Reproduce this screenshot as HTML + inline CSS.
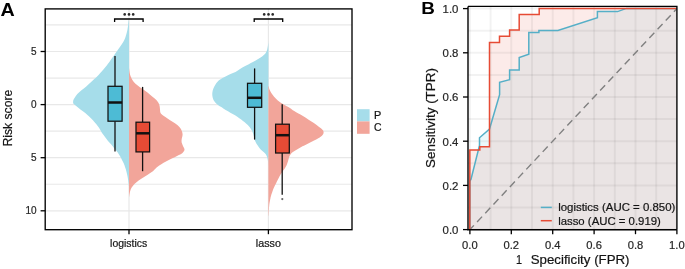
<!DOCTYPE html>
<html><head><meta charset="utf-8"><style>
html,body{margin:0;padding:0;background:#fff;}
svg{display:block;will-change:transform;}
text{font-family:"Liberation Sans",sans-serif;}
</style></head><body>
<svg width="685" height="269" viewBox="0 0 685 269">
<rect width="685" height="269" fill="#fff"/>
<line x1="45.20" x2="352.00" y1="24.95" y2="24.95" stroke="#E8E8E8" stroke-width="1.2"/><line x1="45.20" x2="352.00" y1="51.50" y2="51.50" stroke="#E8E8E8" stroke-width="1.2"/><line x1="45.20" x2="352.00" y1="78.05" y2="78.05" stroke="#E8E8E8" stroke-width="1.2"/><line x1="45.20" x2="352.00" y1="104.60" y2="104.60" stroke="#E8E8E8" stroke-width="1.2"/><line x1="45.20" x2="352.00" y1="131.15" y2="131.15" stroke="#E8E8E8" stroke-width="1.2"/><line x1="45.20" x2="352.00" y1="157.70" y2="157.70" stroke="#E8E8E8" stroke-width="1.2"/><line x1="45.20" x2="352.00" y1="184.25" y2="184.25" stroke="#E8E8E8" stroke-width="1.2"/><line x1="45.20" x2="352.00" y1="210.80" y2="210.80" stroke="#E8E8E8" stroke-width="1.2"/><line x1="129.00" x2="129.00" y1="8.90" y2="229.70" stroke="#E8E8E8" stroke-width="1.2"/><line x1="268.40" x2="268.40" y1="8.90" y2="229.70" stroke="#E8E8E8" stroke-width="1.2"/><path d="M128.90,19.50 C128.83,19.92 128.65,20.90 128.50,22.00 C128.35,23.10 128.18,24.75 128.00,26.10 C127.82,27.45 127.67,28.77 127.40,30.10 C127.13,31.43 126.78,32.75 126.40,34.10 C126.02,35.45 125.65,36.85 125.10,38.20 C124.55,39.55 123.88,40.87 123.10,42.20 C122.32,43.53 121.32,44.85 120.40,46.20 C119.48,47.55 118.53,48.97 117.60,50.30 C116.67,51.63 115.65,53.00 114.80,54.20 C113.95,55.40 113.35,56.30 112.50,57.50 C111.65,58.70 110.83,59.85 109.70,61.40 C108.57,62.95 107.12,65.02 105.70,66.80 C104.28,68.58 102.55,70.57 101.20,72.10 C99.85,73.63 99.10,74.52 97.60,76.00 C96.10,77.48 93.78,79.55 92.20,81.00 C90.62,82.45 89.50,83.45 88.10,84.70 C86.70,85.95 85.28,87.25 83.80,88.50 C82.32,89.75 80.53,90.97 79.20,92.20 C77.87,93.43 76.73,94.67 75.80,95.90 C74.87,97.13 74.05,98.58 73.60,99.60 C73.15,100.62 73.07,101.27 73.10,102.00 C73.13,102.73 72.98,103.10 73.80,104.00 C74.62,104.90 76.48,106.20 78.00,107.40 C79.52,108.60 81.32,109.95 82.90,111.20 C84.48,112.45 86.12,113.67 87.50,114.90 C88.88,116.13 90.02,117.37 91.20,118.60 C92.38,119.83 93.52,121.07 94.60,122.30 C95.68,123.53 96.77,124.77 97.70,126.00 C98.63,127.23 99.42,128.45 100.20,129.70 C100.98,130.95 101.57,132.25 102.40,133.50 C103.23,134.75 104.27,135.97 105.20,137.20 C106.13,138.43 106.98,139.67 108.00,140.90 C109.02,142.13 110.22,143.30 111.30,144.60 C112.38,145.90 113.43,147.40 114.50,148.70 C115.57,150.00 116.77,151.15 117.70,152.40 C118.63,153.65 119.38,154.95 120.10,156.20 C120.82,157.45 121.38,158.67 122.00,159.90 C122.62,161.13 123.28,162.37 123.80,163.60 C124.32,164.83 124.68,166.07 125.10,167.30 C125.52,168.53 125.95,169.75 126.30,171.00 C126.65,172.25 126.93,173.55 127.20,174.80 C127.47,176.05 127.68,177.27 127.90,178.50 C128.12,179.73 128.33,180.95 128.50,182.20 C128.67,183.45 128.83,185.37 128.90,186.00 L129.00,186.00 L129.00,19.50 Z" fill="#A6DDEA"/><path d="M129.10,68.50 C129.18,69.15 129.35,71.12 129.60,72.40 C129.85,73.68 130.13,74.95 130.60,76.20 C131.07,77.45 131.63,78.67 132.40,79.90 C133.17,81.13 133.95,82.37 135.20,83.60 C136.45,84.83 138.20,86.07 139.90,87.30 C141.60,88.53 143.70,89.77 145.40,91.00 C147.10,92.23 148.55,93.45 150.10,94.70 C151.65,95.95 153.37,97.25 154.70,98.50 C156.03,99.75 157.28,100.97 158.10,102.20 C158.92,103.43 159.28,104.67 159.60,105.90 C159.92,107.13 159.82,108.37 160.00,109.60 C160.18,110.83 160.00,112.20 160.70,113.30 C161.40,114.40 162.70,115.10 164.20,116.20 C165.70,117.30 167.85,118.67 169.70,119.90 C171.55,121.13 173.65,122.37 175.30,123.60 C176.95,124.83 178.52,126.07 179.60,127.30 C180.68,128.53 181.30,129.77 181.80,131.00 C182.30,132.23 182.60,133.45 182.60,134.70 C182.60,135.95 181.97,137.25 181.80,138.50 C181.63,139.75 181.40,140.97 181.60,142.20 C181.80,143.43 182.52,144.67 183.00,145.90 C183.48,147.13 184.58,148.42 184.50,149.60 C184.42,150.78 183.67,151.97 182.50,153.00 C181.33,154.03 179.28,154.87 177.50,155.80 C175.72,156.73 173.72,157.67 171.80,158.60 C169.88,159.53 167.75,160.47 166.00,161.40 C164.25,162.33 162.87,163.20 161.30,164.20 C159.73,165.20 158.00,166.23 156.60,167.40 C155.20,168.57 154.45,169.95 152.90,171.20 C151.35,172.45 149.17,173.67 147.30,174.90 C145.43,176.13 143.50,177.37 141.70,178.60 C139.90,179.83 137.98,181.07 136.50,182.30 C135.02,183.53 133.78,184.77 132.80,186.00 C131.82,187.23 131.13,188.45 130.60,189.70 C130.07,190.95 129.85,192.25 129.60,193.50 C129.35,194.75 129.18,196.58 129.10,197.20 L129.00,197.20 L129.00,68.50 Z" fill="#F2A59A"/><path d="M268.50,41.00 C268.40,41.78 268.10,44.37 267.90,45.70 C267.70,47.03 267.50,48.10 267.30,49.00 C267.10,49.90 267.05,50.32 266.70,51.10 C266.35,51.88 265.97,52.82 265.20,53.70 C264.43,54.58 263.28,55.50 262.10,56.40 C260.92,57.30 259.55,58.20 258.10,59.10 C256.65,60.00 255.03,60.90 253.40,61.80 C251.77,62.70 249.98,63.62 248.30,64.50 C246.62,65.38 244.68,66.33 243.30,67.10 C241.92,67.87 241.30,68.28 240.00,69.10 C238.70,69.92 237.08,71.18 235.50,72.00 C233.92,72.82 232.00,73.33 230.50,74.00 C229.00,74.67 227.83,75.33 226.50,76.00 C225.17,76.67 223.92,77.13 222.50,78.00 C221.08,78.87 219.22,80.05 218.00,81.20 C216.78,82.35 215.97,83.67 215.20,84.90 C214.43,86.13 213.87,87.37 213.40,88.60 C212.93,89.83 212.57,91.07 212.40,92.30 C212.23,93.53 212.23,94.77 212.40,96.00 C212.57,97.23 212.77,98.45 213.40,99.70 C214.03,100.95 215.32,102.52 216.20,103.50 C217.08,104.48 217.52,104.78 218.70,105.60 C219.88,106.42 221.75,107.47 223.30,108.40 C224.85,109.33 226.43,110.27 228.00,111.20 C229.57,112.13 231.15,113.08 232.70,114.00 C234.25,114.92 235.88,115.78 237.30,116.70 C238.72,117.62 239.97,118.57 241.20,119.50 C242.43,120.43 243.60,121.37 244.70,122.30 C245.80,123.23 246.87,124.17 247.80,125.10 C248.73,126.03 249.60,126.97 250.30,127.90 C251.00,128.83 251.53,129.77 252.00,130.70 C252.47,131.63 252.80,132.57 253.10,133.50 C253.40,134.43 253.57,135.38 253.80,136.30 C254.03,137.22 254.22,138.08 254.50,139.00 C254.78,139.92 255.08,140.87 255.50,141.80 C255.92,142.73 256.43,143.68 257.00,144.60 C257.57,145.52 258.20,146.40 258.90,147.30 C259.60,148.20 260.42,149.22 261.20,150.00 C261.98,150.78 262.87,151.35 263.60,152.00 C264.33,152.65 265.08,153.22 265.60,153.90 C266.12,154.58 266.38,155.35 266.70,156.10 C267.02,156.85 267.30,157.65 267.50,158.40 C267.70,159.15 267.78,159.83 267.90,160.60 C268.02,161.37 268.12,162.10 268.20,163.00 C268.28,163.90 268.37,165.50 268.40,166.00 L268.40,166.00 L268.40,41.00 Z" fill="#A6DDEA"/><path d="M268.90,86.50 C268.98,86.97 269.00,88.22 269.40,89.30 C269.80,90.38 270.52,91.77 271.30,93.00 C272.08,94.23 273.02,95.47 274.10,96.70 C275.18,97.93 276.25,99.15 277.80,100.40 C279.35,101.65 281.38,102.95 283.40,104.20 C285.42,105.45 288.17,106.80 289.90,107.90 C291.63,109.00 292.30,109.83 293.80,110.80 C295.30,111.77 296.97,112.60 298.90,113.70 C300.83,114.80 303.38,116.15 305.40,117.40 C307.42,118.65 309.13,119.95 311.00,121.20 C312.87,122.45 314.90,123.67 316.60,124.90 C318.30,126.13 320.05,127.52 321.20,128.60 C322.35,129.68 323.18,130.47 323.50,131.40 C323.82,132.33 323.63,133.27 323.10,134.20 C322.57,135.13 321.53,136.08 320.30,137.00 C319.07,137.92 317.72,138.62 315.70,139.70 C313.68,140.78 310.68,142.25 308.20,143.50 C305.72,144.75 302.95,146.03 300.80,147.20 C298.65,148.37 296.93,149.42 295.30,150.50 C293.67,151.58 292.05,152.55 291.00,153.70 C289.95,154.85 289.50,156.15 289.00,157.40 C288.50,158.65 288.38,159.95 288.00,161.20 C287.62,162.45 287.25,163.67 286.70,164.90 C286.15,166.13 285.47,167.37 284.70,168.60 C283.93,169.83 282.93,171.07 282.10,172.30 C281.27,173.53 280.42,174.75 279.70,176.00 C278.98,177.25 278.42,178.55 277.80,179.80 C277.18,181.05 276.62,182.27 276.00,183.50 C275.38,184.73 274.67,185.97 274.10,187.20 C273.53,188.43 273.07,189.65 272.60,190.90 C272.13,192.15 271.67,193.45 271.30,194.70 C270.93,195.95 270.73,196.77 270.40,198.40 C270.07,200.03 269.55,202.57 269.30,204.50 C269.05,206.43 269.02,208.12 268.90,210.00 C268.78,211.88 268.65,214.83 268.60,215.80 L268.40,215.80 L268.40,86.50 Z" fill="#F2A59A"/><line x1="115.00" y1="56.00" x2="115.00" y2="86.30" stroke="#111" stroke-width="1.3"/><line x1="115.00" y1="121.20" x2="115.00" y2="151.40" stroke="#111" stroke-width="1.3"/><rect x="108.00" y="86.30" width="14.10" height="34.90" fill="#4DBBD5" stroke="#111" stroke-width="1.25"/><line x1="108.00" y1="102.50" x2="122.10" y2="102.50" stroke="#111" stroke-width="2.5"/><line x1="142.60" y1="86.90" x2="142.60" y2="122.20" stroke="#111" stroke-width="1.3"/><line x1="142.60" y1="151.90" x2="142.60" y2="171.20" stroke="#111" stroke-width="1.3"/><rect x="136.00" y="122.20" width="13.60" height="29.70" fill="#E64B35" stroke="#111" stroke-width="1.25"/><line x1="136.00" y1="133.30" x2="149.60" y2="133.30" stroke="#111" stroke-width="2.5"/><line x1="254.60" y1="68.40" x2="254.60" y2="83.30" stroke="#111" stroke-width="1.3"/><line x1="254.60" y1="107.30" x2="254.60" y2="139.60" stroke="#111" stroke-width="1.3"/><rect x="247.50" y="83.30" width="14.20" height="24.00" fill="#4DBBD5" stroke="#111" stroke-width="1.25"/><line x1="247.50" y1="97.80" x2="261.70" y2="97.80" stroke="#111" stroke-width="2.5"/><line x1="282.20" y1="104.20" x2="282.20" y2="124.20" stroke="#111" stroke-width="1.3"/><line x1="282.20" y1="153.00" x2="282.20" y2="194.70" stroke="#111" stroke-width="1.3"/><rect x="275.60" y="124.20" width="13.70" height="28.80" fill="#E64B35" stroke="#111" stroke-width="1.25"/><line x1="275.60" y1="135.20" x2="289.30" y2="135.20" stroke="#111" stroke-width="2.5"/><circle cx="282.3" cy="199.1" r="1.1" fill="#666"/><path d="M114.60,22 L114.60,19 L143.10,19 L143.10,22" fill="none" stroke="#000" stroke-width="1.3"/><circle cx="124.70" cy="14.4" r="1.3" fill="#2a2a2a"/><circle cx="129.00" cy="14.4" r="1.3" fill="#2a2a2a"/><circle cx="133.20" cy="14.4" r="1.3" fill="#2a2a2a"/><path d="M254.20,22 L254.20,19 L282.70,19 L282.70,22" fill="none" stroke="#000" stroke-width="1.3"/><circle cx="264.20" cy="14.4" r="1.3" fill="#2a2a2a"/><circle cx="268.50" cy="14.4" r="1.3" fill="#2a2a2a"/><circle cx="272.70" cy="14.4" r="1.3" fill="#2a2a2a"/><rect x="45.20" y="8.90" width="306.80" height="220.80" fill="none" stroke="#000" stroke-width="1.35"/><line x1="40.6" x2="45.20" y1="51.50" y2="51.50" stroke="#000" stroke-width="1.3"/><text x="36.6" y="55.10" font-size="10" text-anchor="end" fill="#262626" stroke="#262626" stroke-width="0.2">5</text><line x1="40.6" x2="45.20" y1="104.60" y2="104.60" stroke="#000" stroke-width="1.3"/><text x="36.6" y="108.20" font-size="10" text-anchor="end" fill="#262626" stroke="#262626" stroke-width="0.2">0</text><line x1="40.6" x2="45.20" y1="157.70" y2="157.70" stroke="#000" stroke-width="1.3"/><text x="36.6" y="161.30" font-size="10" text-anchor="end" fill="#262626" stroke="#262626" stroke-width="0.2">5</text><line x1="40.6" x2="45.20" y1="210.80" y2="210.80" stroke="#000" stroke-width="1.3"/><text x="36.6" y="214.40" font-size="10" text-anchor="end" fill="#262626" stroke="#262626" stroke-width="0.2">10</text><line x1="129.00" x2="129.00" y1="229.70" y2="234.2" stroke="#000" stroke-width="1.3"/><line x1="268.40" x2="268.40" y1="229.70" y2="234.2" stroke="#000" stroke-width="1.3"/><text x="110.09" y="246.80" font-size="10.20" textLength="37.16" lengthAdjust="spacingAndGlyphs" fill="#141414" stroke="#141414" stroke-width="0.2">logistics</text><text x="255.87" y="246.90" font-size="10.20" textLength="25.08" lengthAdjust="spacingAndGlyphs" fill="#141414" stroke="#141414" stroke-width="0.2">lasso</text><text transform="translate(12.10,146.61) rotate(-90)" x="0" y="0" font-size="12.10" textLength="56.93" lengthAdjust="spacingAndGlyphs" fill="#141414" stroke="#141414" stroke-width="0.2">Risk score</text><text x="0.61" y="15.90" font-size="18.00" textLength="14.23" lengthAdjust="spacingAndGlyphs" fill="#000" stroke="#000" stroke-width="0" font-weight="bold">A</text><rect x="357" y="109.2" width="12.6" height="12.2" fill="#A6DDEA"/><rect x="357" y="121.4" width="12.6" height="12.4" fill="#F2A59A"/><text x="373.90" y="118.80" font-size="10.10" textLength="7.26" lengthAdjust="spacingAndGlyphs" fill="#141414" stroke="#141414" stroke-width="0.2">P</text><text x="374.08" y="131.20" font-size="10.10" textLength="7.54" lengthAdjust="spacingAndGlyphs" fill="#141414" stroke="#141414" stroke-width="0.2">C</text>
<polygon points="469.80,229.70 469.80,181.50 471.00,179.20 479.50,145.50 479.50,137.80 489.50,129.00 499.60,94.60 499.60,82.30 509.60,79.60 509.60,70.00 519.20,70.00 519.20,57.50 528.80,54.30 528.80,32.50 538.90,32.50 538.90,30.40 557.90,30.40 597.40,17.80 597.40,11.60 617.50,11.60 626.40,8.40 676.30,8.40 676.30,229.7" fill="rgba(77,187,213,0.11)"/><polygon points="469.80,229.70 469.80,149.90 479.80,149.90 479.80,146.80 489.50,146.80 489.50,42.40 499.50,42.40 499.50,36.20 509.60,36.20 509.60,30.00 519.20,30.00 519.20,14.50 539.20,14.50 539.20,8.40 676.30,8.40 676.30,229.7" fill="rgba(230,75,53,0.11)"/><line x1="469.90" x2="469.90" y1="6.40" y2="229.7" stroke="#000" stroke-opacity="0.05" stroke-width="2"/><line x1="468" x2="676.9" y1="229.60" y2="229.60" stroke="#000" stroke-opacity="0.05" stroke-width="2"/><line x1="490.60" x2="490.60" y1="6.40" y2="229.7" stroke="#000" stroke-opacity="0.05" stroke-width="2"/><line x1="468" x2="676.9" y1="207.50" y2="207.50" stroke="#000" stroke-opacity="0.05" stroke-width="2"/><line x1="511.30" x2="511.30" y1="6.40" y2="229.7" stroke="#000" stroke-opacity="0.05" stroke-width="2"/><line x1="468" x2="676.9" y1="185.40" y2="185.40" stroke="#000" stroke-opacity="0.05" stroke-width="2"/><line x1="532.00" x2="532.00" y1="6.40" y2="229.7" stroke="#000" stroke-opacity="0.05" stroke-width="2"/><line x1="468" x2="676.9" y1="163.30" y2="163.30" stroke="#000" stroke-opacity="0.05" stroke-width="2"/><line x1="552.70" x2="552.70" y1="6.40" y2="229.7" stroke="#000" stroke-opacity="0.05" stroke-width="2"/><line x1="468" x2="676.9" y1="141.20" y2="141.20" stroke="#000" stroke-opacity="0.05" stroke-width="2"/><line x1="573.40" x2="573.40" y1="6.40" y2="229.7" stroke="#000" stroke-opacity="0.05" stroke-width="2"/><line x1="468" x2="676.9" y1="119.10" y2="119.10" stroke="#000" stroke-opacity="0.05" stroke-width="2"/><line x1="594.10" x2="594.10" y1="6.40" y2="229.7" stroke="#000" stroke-opacity="0.05" stroke-width="2"/><line x1="468" x2="676.9" y1="97.00" y2="97.00" stroke="#000" stroke-opacity="0.05" stroke-width="2"/><line x1="614.80" x2="614.80" y1="6.40" y2="229.7" stroke="#000" stroke-opacity="0.05" stroke-width="2"/><line x1="468" x2="676.9" y1="74.90" y2="74.90" stroke="#000" stroke-opacity="0.05" stroke-width="2"/><line x1="635.50" x2="635.50" y1="6.40" y2="229.7" stroke="#000" stroke-opacity="0.05" stroke-width="2"/><line x1="468" x2="676.9" y1="52.80" y2="52.80" stroke="#000" stroke-opacity="0.05" stroke-width="2"/><line x1="656.20" x2="656.20" y1="6.40" y2="229.7" stroke="#000" stroke-opacity="0.05" stroke-width="2"/><line x1="468" x2="676.9" y1="30.70" y2="30.70" stroke="#000" stroke-opacity="0.05" stroke-width="2"/><line x1="676.90" x2="676.90" y1="6.40" y2="229.7" stroke="#000" stroke-opacity="0.05" stroke-width="2"/><line x1="468" x2="676.9" y1="8.60" y2="8.60" stroke="#000" stroke-opacity="0.05" stroke-width="2"/><line x1="469.90" y1="229.60" x2="676.90" y2="8.60" stroke="#808080" stroke-width="1.4" stroke-dasharray="7.3,4.7" stroke-dashoffset="1.5"/><polyline points="469.80,229.70 469.80,181.50 471.00,179.20 479.50,145.50 479.50,137.80 489.50,129.00 499.60,94.60 499.60,82.30 509.60,79.60 509.60,70.00 519.20,70.00 519.20,57.50 528.80,54.30 528.80,32.50 538.90,32.50 538.90,30.40 557.90,30.40 597.40,17.80 597.40,11.60 617.50,11.60 626.40,8.40 676.30,8.40" fill="none" stroke="#55AFC7" stroke-width="1.5"/><polyline points="469.80,229.70 469.80,149.90 479.80,149.90 479.80,146.80 489.50,146.80 489.50,42.40 499.50,42.40 499.50,36.20 509.60,36.20 509.60,30.00 519.20,30.00 519.20,14.50 539.20,14.50 539.20,8.40 676.30,8.40" fill="none" stroke="#E64B35" stroke-width="1.5"/><path d="M468,6.4 L676.9,6.4 L676.9,229.7" fill="none" stroke="#000" stroke-width="1.35"/><path d="M468,6.4 L468,229.7 L676.9,229.7" fill="none" stroke="#000" stroke-width="1.4"/><line x1="463" x2="468" y1="229.60" y2="229.60" stroke="#000" stroke-width="1.3"/><text x="458.4" y="233.90" font-size="11.4" text-anchor="end" fill="#262626" stroke="#262626" stroke-width="0.2">0.0</text><line x1="469.90" x2="469.90" y1="229.7" y2="234.2" stroke="#000" stroke-width="1.3"/><text x="469.90" y="249.1" font-size="11.2" text-anchor="middle" fill="#262626" stroke="#262626" stroke-width="0.2">0.0</text><line x1="463" x2="468" y1="185.40" y2="185.40" stroke="#000" stroke-width="1.3"/><text x="458.4" y="189.70" font-size="11.4" text-anchor="end" fill="#262626" stroke="#262626" stroke-width="0.2">0.2</text><line x1="511.30" x2="511.30" y1="229.7" y2="234.2" stroke="#000" stroke-width="1.3"/><text x="511.30" y="249.1" font-size="11.2" text-anchor="middle" fill="#262626" stroke="#262626" stroke-width="0.2">0.2</text><line x1="463" x2="468" y1="141.20" y2="141.20" stroke="#000" stroke-width="1.3"/><text x="458.4" y="145.50" font-size="11.4" text-anchor="end" fill="#262626" stroke="#262626" stroke-width="0.2">0.4</text><line x1="552.70" x2="552.70" y1="229.7" y2="234.2" stroke="#000" stroke-width="1.3"/><text x="552.70" y="249.1" font-size="11.2" text-anchor="middle" fill="#262626" stroke="#262626" stroke-width="0.2">0.4</text><line x1="463" x2="468" y1="97.00" y2="97.00" stroke="#000" stroke-width="1.3"/><text x="458.4" y="101.30" font-size="11.4" text-anchor="end" fill="#262626" stroke="#262626" stroke-width="0.2">0.6</text><line x1="594.10" x2="594.10" y1="229.7" y2="234.2" stroke="#000" stroke-width="1.3"/><text x="594.10" y="249.1" font-size="11.2" text-anchor="middle" fill="#262626" stroke="#262626" stroke-width="0.2">0.6</text><line x1="463" x2="468" y1="52.80" y2="52.80" stroke="#000" stroke-width="1.3"/><text x="458.4" y="57.10" font-size="11.4" text-anchor="end" fill="#262626" stroke="#262626" stroke-width="0.2">0.8</text><line x1="635.50" x2="635.50" y1="229.7" y2="234.2" stroke="#000" stroke-width="1.3"/><text x="635.50" y="249.1" font-size="11.2" text-anchor="middle" fill="#262626" stroke="#262626" stroke-width="0.2">0.8</text><line x1="463" x2="468" y1="8.60" y2="8.60" stroke="#000" stroke-width="1.3"/><text x="458.4" y="12.90" font-size="11.4" text-anchor="end" fill="#262626" stroke="#262626" stroke-width="0.2">1.0</text><line x1="676.90" x2="676.90" y1="229.7" y2="234.2" stroke="#000" stroke-width="1.3"/><text x="676.90" y="249.1" font-size="11.2" text-anchor="middle" fill="#262626" stroke="#262626" stroke-width="0.2">1.0</text><text x="516.08" y="264.40" font-size="12.60" textLength="6.04" lengthAdjust="spacingAndGlyphs" fill="#141414" stroke="#141414" stroke-width="0.2">1</text><text x="530.70" y="264.40" font-size="12.60" textLength="98.83" lengthAdjust="spacingAndGlyphs" fill="#141414" stroke="#141414" stroke-width="0.2">Specificity (FPR)</text><text transform="translate(434.60,167.90) rotate(-90)" x="0" y="0" font-size="12.80" textLength="99.75" lengthAdjust="spacingAndGlyphs" fill="#141414" stroke="#141414" stroke-width="0.2">Sensitivity (TPR)</text><text x="421.23" y="13.90" font-size="16.80" textLength="13.62" lengthAdjust="spacingAndGlyphs" fill="#000" stroke="#000" stroke-width="0" font-weight="bold">B</text><line x1="540.8" x2="551.8" y1="207.4" y2="207.4" stroke="#55AFC7" stroke-width="1.5"/><line x1="540.8" x2="551.8" y1="220.7" y2="220.7" stroke="#E64B35" stroke-width="1.5"/><text x="558.13" y="211.30" font-size="11.50" textLength="117.21" lengthAdjust="spacingAndGlyphs" fill="#141414" stroke="#141414" stroke-width="0.2">logistics (AUC = 0.850)</text><text x="558.13" y="224.80" font-size="11.50" textLength="102.77" lengthAdjust="spacingAndGlyphs" fill="#141414" stroke="#141414" stroke-width="0.2">lasso (AUC = 0.919)</text>
</svg>
</body></html>
